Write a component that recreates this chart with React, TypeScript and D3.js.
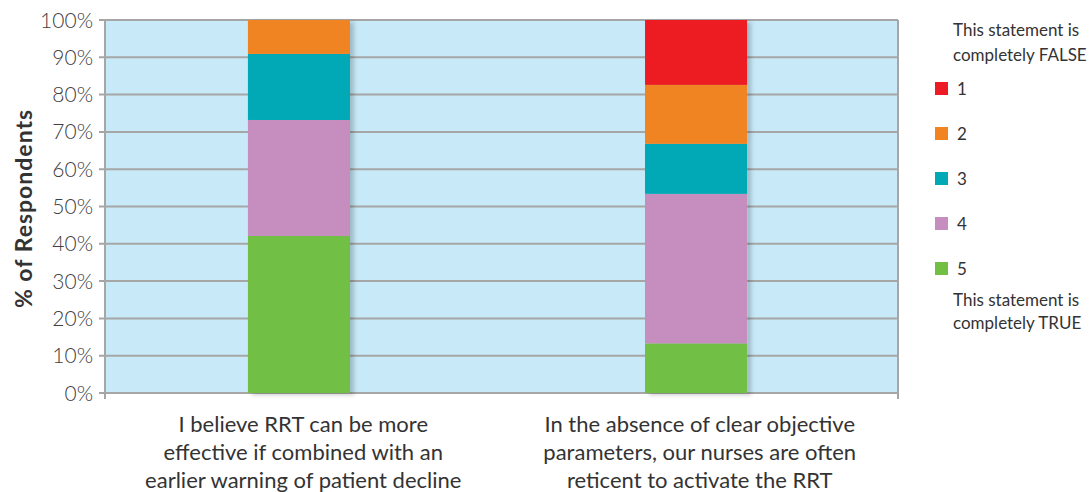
import React from "react";
import * as d3 from "d3";

const categories = [
  ["I believe RRT can be more", "effective if combined with an", "earlier warning of patient decline"],
  ["In the absence of clear objective", "parameters, our nurses are often", "reticent to activate the RRT"],
];
const seriesKeys = ["5", "4", "3", "2", "1"];
const values5 = [42.1, 13.3];
const values4 = [31.1, 40.1];
const values3 = [17.7, 13.4];
const values2 = [9.1, 15.8];
const values1 = [0, 17.4];
const colors = ["#72bf44", "#c68dbf", "#00a9b5", "#f18421", "#ed1c24"];
const yTicks = [0, 10, 20, 30, 40, 50, 60, 70, 80, 90, 100];
const legendOrder = ["1", "2", "3", "4", "5"];

const W = 1091;
const H = 492;
const M = { left: 105, right: 898, top: 20, bottom: 393 };
const FONT = "Lato, 'Open Sans', sans-serif";

export default function App() {
  const seriesValues = [values5, values4, values3, values2, values1];
  const rows = categories.map((c, i) => {
    const r: any = { key: i };
    seriesKeys.forEach((k, j) => (r[k] = seriesValues[j][i]));
    return r;
  });
  const stack = d3.stack<any>().keys(seriesKeys)(rows);
  const x = d3
    .scaleBand<number>()
    .domain(categories.map((_, i) => i))
    .range([M.left - 4, M.right - 4])
    .paddingInner(0.743)
    .paddingOuter(0.37);
  const xl = d3
    .scaleBand<number>()
    .domain(categories.map((_, i) => i))
    .range([M.left, M.right]);
  const y = d3.scaleLinear().domain([0, 100]).range([M.bottom, M.top]);
  const colorOf = d3.scaleOrdinal<string, string>().domain(seriesKeys).range(colors);

  const legendY = d3.scalePoint<string>().domain(legendOrder).range([88.5, 268.5]);

  return (
    <svg width={W} height={H} style={{ position: "absolute", left: 0, top: 0 }} fontFamily={FONT}>
      <defs>
        <filter id="sh" x="-10%" y="-10%" width="130%" height="120%">
          <feDropShadow dx="4" dy="2" stdDeviation="2" floodColor="#000" floodOpacity="0.2" />
        </filter>
      </defs>
      <rect x={M.left} y={M.top} width={M.right - M.left} height={M.bottom - M.top} fill="#c7e9f8" />
      {yTicks.map((t) => (
        <g key={t}>
          <line x1={M.left - 6} x2={M.right} y1={y(t)} y2={y(t)} stroke="#a6a6a6" strokeWidth={2} />
          <text x={M.left - 12} y={y(t)} dy="0.36em" textAnchor="end" fontSize={21} fill="#404040" fontWeight={300}>
            {t}%
          </text>
        </g>
      ))}
      <line x1={M.left} x2={M.left} y1={M.top} y2={M.bottom + 6} stroke="#a6a6a6" strokeWidth={2} />
      <line x1={M.right} x2={M.right} y1={M.top} y2={M.bottom + 6} stroke="#a6a6a6" strokeWidth={2} />
      {categories.map((_, i) => (
        <g key={i} filter="url(#sh)">
          {stack.map((s) => (
            <rect
              key={s.key}
              x={x(i)!}
              width={x.bandwidth()}
              y={y(s[i][1])}
              height={Math.max(0, y(s[i][0]) - y(s[i][1]))}
              fill={colorOf(s.key)}
            />
          ))}
        </g>
      ))}
      {categories.map((lines, i) => (
        <text key={i} textAnchor="middle" fontSize={22} fill="#333">
          {lines.map((l, j) => (
            <tspan key={j} x={xl(i)! + xl.bandwidth() / 2} y={432 + j * 28}>
              {l}
            </tspan>
          ))}
        </text>
      ))}
      <text
        transform={`translate(32,${(M.top + M.bottom) / 2 + 2}) rotate(-90)`}
        textAnchor="middle"
        fontSize={23}
        fontWeight={700}
        letterSpacing={1}
        fill="#333"
      >
        % of Respondents
      </text>
      <g fontSize={17} fill="#333">
        <text x={953} y={36}>This statement is</text>
        <text x={953} y={61}>completely FALSE</text>
        {legendOrder.map((k) => (
          <g key={k}>
            <rect x={935} y={legendY(k)! - 6.5} width={13} height={13} fill={colorOf(k)} />
            <text x={957} y={legendY(k)!} dy="0.36em">{k}</text>
          </g>
        ))}
        <text x={953} y={306}>This statement is</text>
        <text x={953} y={329}>completely TRUE</text>
      </g>
    </svg>
  );
}
